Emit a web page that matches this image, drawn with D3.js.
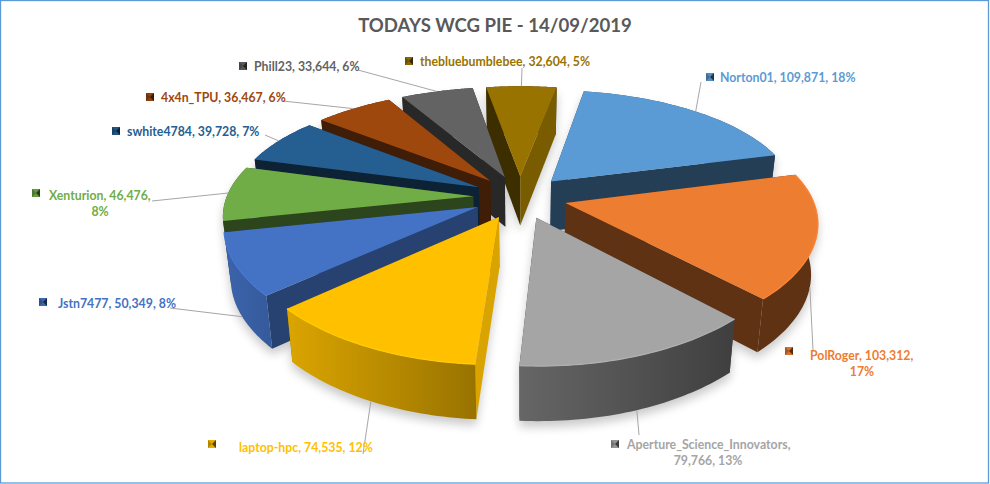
<!DOCTYPE html>
<html>
<head>
<meta charset="utf-8">
<script src="https://cdn.jsdelivr.net/npm/d3@7"></script>
<style>
html, body { margin: 0; padding: 0; background: #fff; }
svg { display: block; }
text { font-family: Lato, sans-serif; font-weight: 700; }
</style>
</head>
<body>
<div class="svg-container"></div>
<script>
const w = 990;
const h = 484;

const names = ['Norton01', 'PolRoger', 'Aperture_Science_Innovators', 'laptop-hpc', 'Jstn7477', 'Xenturion', 'swhite4784', '4x4n_TPU', 'Phill23', 'thebluebumblebee'];
const values = [109871, 103312, 79766, 74535, 50349, 46476, 39728, 36467, 33644, 32604];
const percents = ['18%', '17%', '13%', '12%', '8%', '8%', '7%', '6%', '6%', '5%'];
const colors = ['#5b9bd5', '#ed7d31', '#a5a5a5', '#ffc000', '#4472c4', '#70ad47', '#255e91', '#9e480e', '#636363', '#997300'];

// where each label sits: [text x, baseline y, anchor, key x, key y, leader start x, leader start y]
const labelLayout = [
	[720, 82, 'start', 706, 73, 701, 82],
	[810, 360, 'start', 785, 347, 813, 350],
	[627, 449, 'start', 611, 440, 639, 435],
	[239, 452, 'start', 208, 440, 363, 454],
	[58, 308, 'start', 39, 298, 170, 308],
	[49, 200, 'start', 32, 189, 152, 201],
	[127, 136, 'start', 112, 127, 265, 135],
	[161, 102, 'start', 146, 93, 283, 101],
	[254, 71, 'start', 239, 62, 358, 70],
	[420, 66, 'start', 405, 57, 522, 68],
];

// names too long for one line break before the percent part
const secondLine = {
	1: [862, 376, '17%'],
	2: [708, 465, '79,766, 13%'],
	5: [100, 216, '8%'],
};

const fmt = d3.format(',');

const svg = d3
	.select('.svg-container')
	.append('svg')
	.attr('width', w)
	.attr('height', h)
	.attr('viewBox', `0 0 ${w} ${h}`);

svg
	.append('rect')
	.attr('x', 0.5)
	.attr('y', 0.5)
	.attr('width', 988)
	.attr('height', 482.5)
	.attr('fill', '#fff')
	.attr('stroke', '#5b9bd5')
	.attr('stroke-width', 1.3);

svg
	.append('text')
	.attr('x', 495)
	.attr('y', 32)
	.style('text-anchor', 'middle')
	.style('font-size', '18.6px')
	.attr('fill', '#595959')
	.text('TODAYS WCG PIE - 14/09/2019');

const defs = svg.append('defs');
defs
	.append('filter')
	.attr('id', 'soft')
	.attr('x', '-20%')
	.attr('y', '-20%')
	.attr('width', '140%')
	.attr('height', '140%')
	.append('feGaussianBlur')
	.attr('stdDeviation', 5);

// the pie lies on a plane seen from above, so project plane coords to the screen
const cx = 520;
const cy = 197;
const scaleX = 246.6;
const scaleY = 113;
const perspX = 0.149;
const perspY = 0.18;
const explode = 0.19;

const project = (x, y) => [
	cx + (scaleX * x) / (1 - perspX * y),
	cy + (scaleY * y) / (1 - perspY * y),
];

const drop = ([x, y]) => [
	cx + (x - cx) * 0.977,
	y + 50 + 0.03 * (y - cy),
];

const pie = d3
	.pie()
	.sort(null)
	.startAngle((10 * Math.PI) / 180)
	.endAngle((370 * Math.PI) / 180);

const slices = pie(values).map((d, i) => {
	const mid = (d.startAngle + d.endAngle) / 2;
	const ox = explode * Math.sin(mid);
	const oy = -explode * Math.cos(mid);
	const at = (a, r) => project(ox + r * Math.sin(a), oy - r * Math.cos(a));
	const rim = d3
		.range(0, 41)
		.map(t => at(d.startAngle + ((d.endAngle - d.startAngle) * t) / 40, 1));
	return {i, mid, apex: at(0, 0), rim, depth: -Math.cos(mid), at};
});

const line = d3.line();
const closed = pts => line(pts) + 'Z';

const order = d3.sort(slices, d => d.depth);

const faces = d => {
	const rimBottom = d.rim.map(drop);
	const apexBottom = drop(d.apex);
	const first = d.rim[0];
	const last = d.rim[d.rim.length - 1];
	return {
		wall: closed(d.rim.concat(rimBottom.slice().reverse())),
		startCut: closed([d.apex, first, drop(first), apexBottom]),
		endCut: closed([d.apex, last, drop(last), apexBottom]),
		top: closed([d.apex].concat(d.rim)),
	};
};

const shadow = svg
	.append('g')
	.attr('filter', 'url(#soft)')
	.attr('transform', 'translate(0, 6)')
	.attr('opacity', 0.28);

order.forEach(d => {
	const f = faces(d);
	shadow
		.selectAll(null)
		.data([f.wall, f.startCut, f.endCut, f.top])
		.enter()
		.append('path')
		.attr('d', p => p)
		.attr('fill', '#444');
});

// cut faces turned to the right catch the light, the others stay dark
const startShade = [0.4, 0.4, 0.4, 0.85, 0.57, 0.4, 0.36, 0.4, 0.4, 0.4];
const endShade = [0.4, 0.4, 0.4, 0.55, 0.4, 0.4, 0.4, 0.4, 0.4, 0.8];
// lit end and dark end of the outer wall
const wallLit = [0.6, 0.4, 0.62, 0.86, 0.88, 0.5, 0.5, 0.5, 0.5, 0.5];
const wallDark = [0.4, 0.4, 0.38, 0.6, 0.8, 0.4, 0.4, 0.4, 0.4, 0.4];

const shade = (c, k) => {
	const r = d3.rgb(c);
	return d3.rgb(r.r * k, r.g * k, r.b * k).formatHex();
};

const pieG = svg.append('g');

order.forEach(d => {
	const f = faces(d);
	const c = colors[d.i];
	const xs = d3.extent(d.rim, p => p[0]);

	const gradId = `wall-${d.i}`;
	const grad = defs
		.append('linearGradient')
		.attr('id', gradId)
		.attr('gradientUnits', 'userSpaceOnUse')
		.attr('x1', xs[0])
		.attr('x2', xs[1])
		.attr('y1', 0)
		.attr('y2', 0);
	grad.append('stop').attr('offset', 0).attr('stop-color', shade(c, wallLit[d.i]));
	grad.append('stop').attr('offset', 1).attr('stop-color', shade(c, wallDark[d.i]));

	const g = pieG.append('g');
	const drawWall = () => g.append('path').attr('d', f.wall).attr('fill', `url(#${gradId})`);
	const drawStart = () => g.append('path').attr('d', f.startCut).attr('fill', shade(c, startShade[d.i]));
	const drawEnd = () => g.append('path').attr('d', f.endCut).attr('fill', shade(c, endShade[d.i]));

	// back slices hide their wall behind the cuts, front slices the other way round
	if (d.depth <= 0) drawWall();
	// the cut that faces the middle of the picture goes on last
	if (Math.sin(d.mid) > 0) {
		drawStart();
		drawEnd();
	} else {
		drawEnd();
		drawStart();
	}
	if (d.depth > 0) drawWall();
	g.append('path').attr('d', f.top).attr('fill', c);
	// small bevel along the outer edge
	if (d.depth > 0) {
		g
			.append('path')
			.attr('d', line(d.rim))
			.attr('fill', 'none')
			.attr('stroke', d3.rgb(c).brighter(0.2).formatHex())
			.attr('stroke-width', 1.2);
	}
});

// leader lines
const leaders = svg.append('g');
slices.forEach(d => {
	const l = labelLayout[d.i];
	const rimPoint = d.at(d.mid, 1);
	const end = d.depth > 0 ? drop(rimPoint) : rimPoint;
	leaders
		.append('path')
		.attr('d', line([[l[5], l[6]], end]))
		.attr('fill', 'none')
		.attr('stroke', '#a6a6a6')
		.attr('stroke-width', 1);
});

// labels with their little bevelled legend keys
const labels = svg.append('g');
slices.forEach(d => {
	const l = labelLayout[d.i];
	const c = colors[d.i];
	const second = secondLine[d.i];
	let first = `${names[d.i]}, ${fmt(values[d.i])}, ${percents[d.i]}`;
	if (d.i === 2) first = `${names[d.i]},`;
	else if (second) first = `${names[d.i]}, ${fmt(values[d.i])},`;

	labels
		.append('text')
		.attr('x', l[0])
		.attr('y', l[1])
		.style('font-size', '12.3px')
		.attr('fill', c)
		.text(first);
	if (second) {
		labels
			.append('text')
			.attr('x', second[0])
			.attr('y', second[1])
			.style('text-anchor', 'middle')
			.style('font-size', '12.3px')
			.attr('fill', c)
			.text(second[2]);
	}

	const s = 8;
	const key = labels.append('g').attr('transform', `translate(${l[3]}, ${l[4]})`);
	key.append('rect').attr('width', s).attr('height', s).attr('fill', shade(c, 0.9));
	key
		.append('path')
		.attr('d', closed([[0, 0], [s / 2, s / 2], [0, s]]))
		.attr('fill', shade(c, 0.7));
	key
		.append('path')
		.attr('d', closed([[s, 0], [s / 2, s / 2], [s, s]]))
		.attr('fill', shade(c, 0.35));
});
</script>
</body>
</html>
